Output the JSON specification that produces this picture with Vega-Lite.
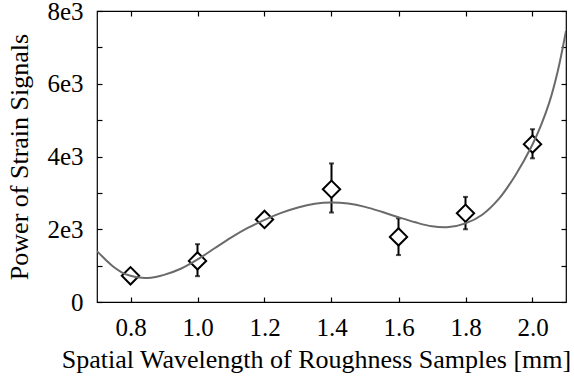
{
  "$schema": "https://vega.github.io/schema/vega-lite/v6.json",
  "width": 469,
  "height": 291,
  "autosize": {"type": "none"},
  "padding": {"left": 97, "top": 11, "right": 8, "bottom": 79},
  "background": "white",
  "config": {
    "view": {"stroke": "black", "strokeWidth": 1.2},
    "font": "Liberation Serif",
    "axis": {
      "grid": false,
      "domain": false,
      "tickColor": "black",
      "tickWidth": 1.2,
      "tickSize": -5,
      "labelFont": "Liberation Serif",
      "titleFont": "Liberation Serif",
      "labelColor": "black",
      "titleColor": "black",
      "labelFontSize": 25,
      "titleFontSize": 26,
      "titleFontWeight": "normal"
    }
  },
  "datasets": {
    "curve": [
      {"x": 0.7, "y": 1400}, {"x": 0.725, "y": 1170}, {"x": 0.75, "y": 960}, {"x": 0.775, "y": 810},
      {"x": 0.8, "y": 720}, {"x": 0.825, "y": 672}, {"x": 0.85, "y": 662}, {"x": 0.875, "y": 690},
      {"x": 0.9, "y": 745}, {"x": 0.95, "y": 915}, {"x": 1.0, "y": 1170}, {"x": 1.05, "y": 1470},
      {"x": 1.1, "y": 1770}, {"x": 1.15, "y": 2035}, {"x": 1.2, "y": 2260}, {"x": 1.25, "y": 2450},
      {"x": 1.3, "y": 2600}, {"x": 1.35, "y": 2700}, {"x": 1.4, "y": 2735}, {"x": 1.45, "y": 2705},
      {"x": 1.5, "y": 2615}, {"x": 1.55, "y": 2480}, {"x": 1.6, "y": 2330}, {"x": 1.65, "y": 2190},
      {"x": 1.7, "y": 2080}, {"x": 1.75, "y": 2060}, {"x": 1.8, "y": 2160}, {"x": 1.85, "y": 2400},
      {"x": 1.9, "y": 2840}, {"x": 1.95, "y": 3500}, {"x": 2.0, "y": 4330}, {"x": 2.025, "y": 4850},
      {"x": 2.05, "y": 5480}, {"x": 2.075, "y": 6330}, {"x": 2.1, "y": 7450}
    ],
    "points": [
      {"x": 0.8, "y": 720, "lo": 620, "hi": 820},
      {"x": 1.0, "y": 1130, "lo": 710, "hi": 1590},
      {"x": 1.2, "y": 2270, "lo": 2170, "hi": 2370},
      {"x": 1.4, "y": 3100, "lo": 2460, "hi": 3810},
      {"x": 1.6, "y": 1790, "lo": 1290, "hi": 2300},
      {"x": 1.8, "y": 2440, "lo": 2000, "hi": 2890},
      {"x": 2.0, "y": 4340, "lo": 3950, "hi": 4750}
    ]
  },
  "resolve": {"axis": {"x": "independent", "y": "independent"}},
  "layer": [
    {
      "data": {"name": "points"},
      "mark": {"type": "rule", "color": "black", "strokeWidth": 2},
      "encoding": {
        "x": {"field": "x", "type": "quantitative", "scale": {"domain": [0.7, 2.1], "nice": false},
          "axis": {"orient": "bottom", "values": [0.8, 1.0, 1.2, 1.4, 1.6, 1.8, 2.0], "format": ".1f",
            "labelFont": "Liberation Serif", "titleFont": "Liberation Serif",
            "labelPadding": 18, "title": "Spatial Wavelength of Roughness Samples [mm]", "titlePadding": 6,
            "titleX": 219, "titleAlign": "center"}},
        "y": {"field": "lo", "type": "quantitative", "scale": {"domain": [0, 8000], "nice": false},
          "axis": {"orient": "left", "values": [0, 1000, 2000, 3000, 4000, 5000, 6000, 7000, 8000],
            "labelFont": "Liberation Serif", "titleFont": "Liberation Serif",
            "labelExpr": "datum.value % 2000 !== 0 ? '' : (datum.value === 0 ? '0' : (datum.value / 1000) + 'e3')",
            "labelPadding": 19, "title": "Power of Strain Signals", "titlePadding": 14}},
        "y2": {"field": "hi"}
      }
    },
    {
      "data": {"name": "points"},
      "mark": {"type": "tick", "color": "black", "orient": "horizontal", "size": 5, "thickness": 2},
      "encoding": {
        "x": {"field": "x", "type": "quantitative",
          "axis": {"orient": "top", "values": [0.8, 1.0, 1.2, 1.4, 1.6, 1.8, 2.0], "labels": false, "title": null}},
        "y": {"field": "lo", "type": "quantitative",
          "axis": {"orient": "right", "values": [0, 1000, 2000, 3000, 4000, 5000, 6000, 7000, 8000], "labels": false, "title": null}}
      }
    },
    {
      "data": {"name": "points"},
      "mark": {"type": "tick", "color": "black", "orient": "horizontal", "size": 5, "thickness": 2},
      "encoding": {
        "x": {"field": "x", "type": "quantitative", "axis": null},
        "y": {"field": "hi", "type": "quantitative", "axis": null}
      }
    },
    {
      "data": {"name": "points"},
      "mark": {"type": "point", "shape": "diamond", "size": 300, "filled": false, "fill": "white", "fillOpacity": 1, "stroke": "black", "strokeWidth": 2, "opacity": 1},
      "encoding": {
        "x": {"field": "x", "type": "quantitative", "axis": null},
        "y": {"field": "y", "type": "quantitative", "axis": null}
      }
    },
    {
      "data": {"name": "curve"},
      "mark": {"type": "line", "color": "#6a6a6a", "strokeWidth": 2, "interpolate": "catmull-rom", "clip": true},
      "encoding": {
        "x": {"field": "x", "type": "quantitative", "axis": null},
        "y": {"field": "y", "type": "quantitative", "axis": null}
      }
    }
  ]
}
